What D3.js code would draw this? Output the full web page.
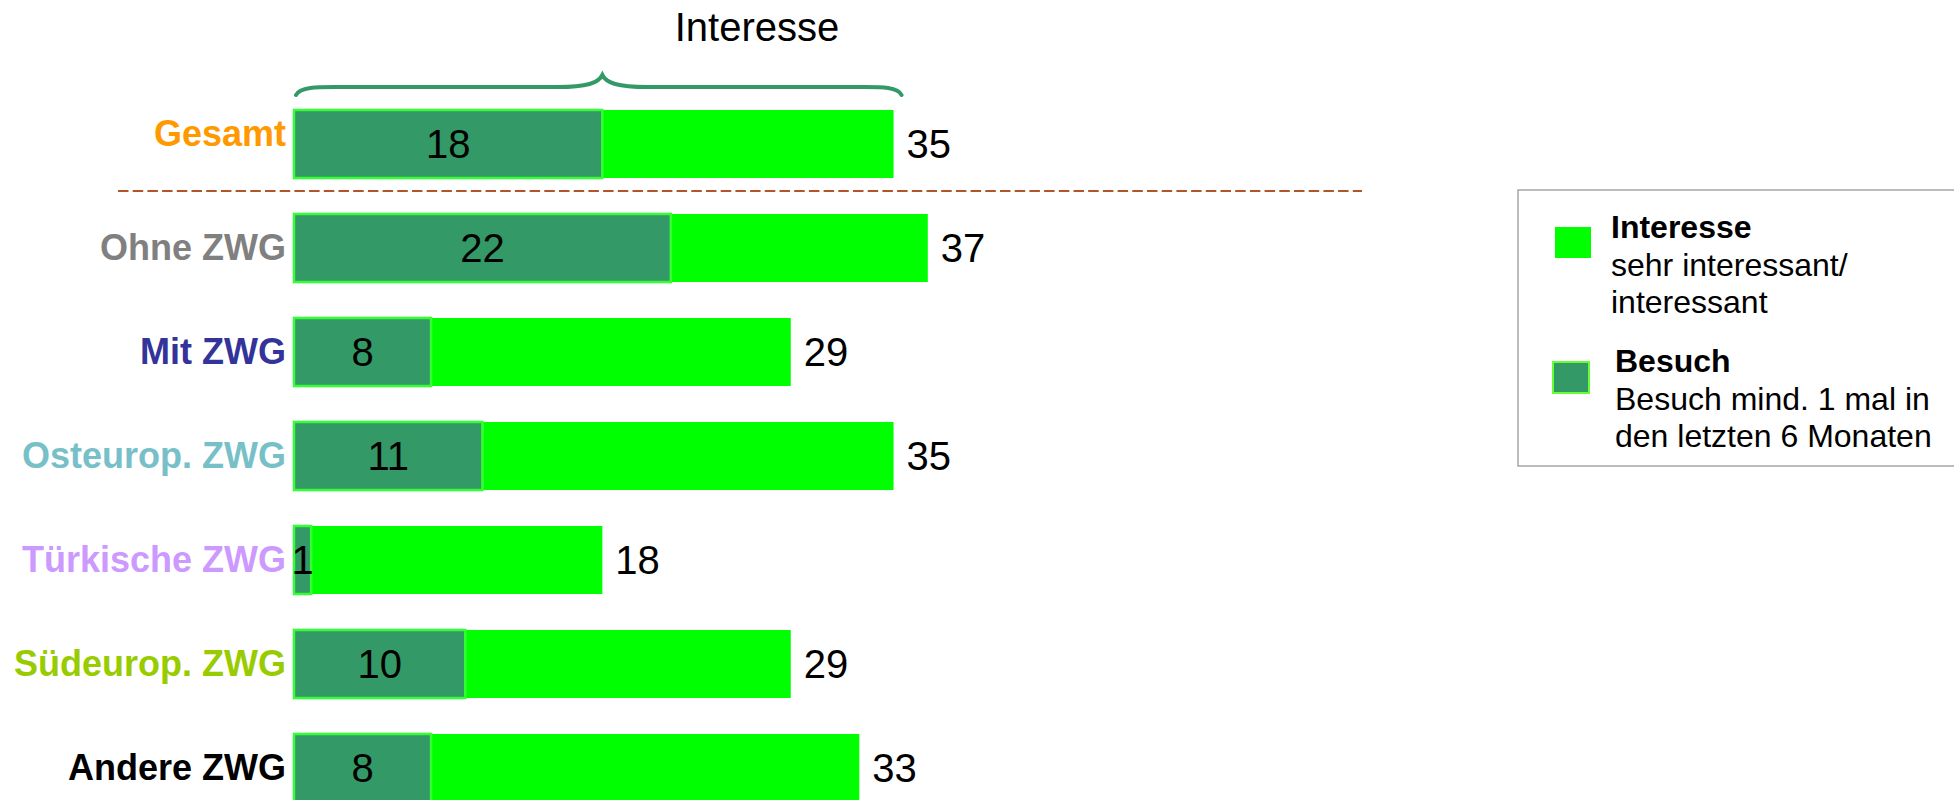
<!DOCTYPE html>
<html>
<head>
<meta charset="utf-8">
<script src="https://cdn.jsdelivr.net/npm/d3@7"></script>
<style>
  body { margin: 0; background: #fff; }
  svg { display: block; font-family: "Liberation Sans", Arial, sans-serif; }
</style>
</head>
<body>
<svg width="1954" height="800"></svg>
<script>
// data
var categories = ["Gesamt", "Ohne ZWG", "Mit ZWG", "Osteurop. ZWG", "Türkische ZWG", "Südeurop. ZWG", "Andere ZWG"];
var besuch = [18, 22, 8, 11, 1, 10, 8];
var interesse = [35, 37, 29, 35, 18, 29, 33];
var labelColors = ["#FF9900", "#808080", "#333399", "#78C0C8", "#CC99FF", "#99CC00", "#000000"];

var data = categories.map(function (c, i) {
  return { cat: c, besuch: besuch[i], interesse: interesse[i] };
});

var svg = d3.select("svg");

var x = d3.scaleLinear()
  .domain([0, 37])
  .range([294, 294 + 37 * 17.13]);

var y = d3.scaleBand()
  .domain(categories)
  .range([110, 110 + 6 * 104 + 68])
  .paddingInner(0.346)
  .paddingOuter(0);

var color = d3.scaleOrdinal().domain(categories).range(labelColors);

// title + brace over the Gesamt bar
svg.append("text")
  .attr("x", 757)
  .attr("y", 41)
  .attr("text-anchor", "middle")
  .style("font-size", "40px")
  .text("Interesse");

var g0 = data[0];
var bl = x(0) + 2, br = x(g0.interesse) + 8, bm = x(g0.besuch);
var bracePath = "M" + bl + ",95 C" + (bl + 4) + ",86 " + (bl + 24) + ",87 " + (bl + 49) + ",87"
  + " L" + (bm - 45) + ",87 C" + (bm - 15) + ",87 " + (bm - 4) + ",83 " + bm + ",75"
  + " C" + (bm + 4) + ",83 " + (bm + 15) + ",87 " + (bm + 45) + ",87"
  + " L" + (br - 47) + ",87 C" + (br - 22) + ",87 " + (br - 4) + ",86 " + br + ",95";
svg.append("path")
  .attr("d", bracePath)
  .attr("fill", "none")
  .attr("stroke", "#339966")
  .attr("stroke-width", 4)
  .attr("stroke-linecap", "round");

// dashed separator under Gesamt
svg.append("line")
  .attr("x1", 118).attr("x2", 1362)
  .attr("y1", 191).attr("y2", 191)
  .attr("stroke", "#B3552A")
  .attr("stroke-width", 2)
  .attr("stroke-dasharray", "10.5,4.2");

var rows = svg.append("g").selectAll("g")
  .data(data)
  .enter()
  .append("g")
  .attr("transform", function (d) { return "translate(0," + y(d.cat) + ")"; });

var bh = y.bandwidth();

rows.append("rect")
  .attr("x", x(0))
  .attr("y", 0)
  .attr("width", function (d) { return x(d.interesse) - x(0); })
  .attr("height", bh)
  .attr("fill", "#00FF00");

rows.append("rect")
  .attr("x", x(0))
  .attr("y", 0)
  .attr("width", function (d) { return x(d.besuch) - x(0); })
  .attr("height", bh)
  .attr("fill", "#339966")
  .attr("stroke", "#33FF33")
  .attr("stroke-width", 2.5);

rows.append("text")
  .attr("x", function (d) { return (x(0) + x(d.besuch)) / 2; })
  .attr("y", bh / 2 + 14)
  .attr("text-anchor", "middle")
  .style("font-size", "40px")
  .text(function (d) { return d.besuch; });

rows.append("text")
  .attr("x", function (d) { return x(d.interesse) + 13; })
  .attr("y", bh / 2 + 14)
  .style("font-size", "40px")
  .text(function (d) { return d.interesse; });

rows.append("text")
  .attr("x", 286)
  .attr("y", function (d, i) { return bh / 2 + 12 + (i === 0 ? -10 : 0); })
  .attr("text-anchor", "end")
  .style("font-size", "36px")
  .style("font-weight", "bold")
  .attr("fill", function (d) { return color(d.cat); })
  .text(function (d) { return d.cat; });

// legend
var legend = svg.append("g");
legend.append("rect")
  .attr("x", 1518).attr("y", 190)
  .attr("width", 520).attr("height", 276)
  .attr("fill", "#fff")
  .attr("stroke", "#A6A6A6")
  .attr("stroke-width", 1.5);

legend.append("rect")
  .attr("x", 1555).attr("y", 227)
  .attr("width", 36).attr("height", 31)
  .attr("fill", "#00FF00");

legend.append("rect")
  .attr("x", 1553).attr("y", 362)
  .attr("width", 36).attr("height", 31)
  .attr("fill", "#339966")
  .attr("stroke", "#66FF33")
  .attr("stroke-width", 2);

var legendItems = [
  { x: 1611, y: 238, title: "Interesse", lines: ["sehr interessant/", "interessant"] },
  { x: 1615, y: 372, title: "Besuch", lines: ["Besuch mind. 1 mal in", "den letzten 6 Monaten"] }
];

legendItems.forEach(function (it) {
  var t = legend.append("text")
    .attr("x", it.x)
    .attr("y", it.y)
    .style("font-size", "32px");
  t.append("tspan").style("font-weight", "bold").text(it.title);
  it.lines.forEach(function (l) {
    t.append("tspan").attr("x", it.x).attr("dy", 37.5).text(l);
  });
});
</script>
</body>
</html>
